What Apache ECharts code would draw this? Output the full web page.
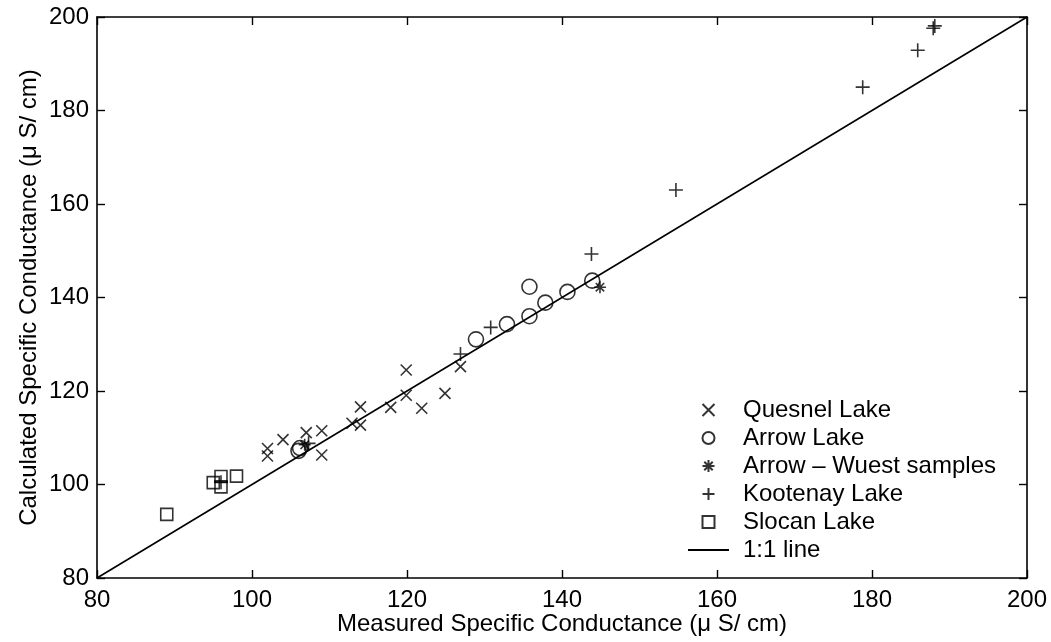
<!DOCTYPE html>
<html>
<head>
<meta charset="utf-8">
<script src="https://cdn.jsdelivr.net/npm/echarts@6/dist/echarts.min.js"></script>
<style>
html,body{margin:0;padding:0;background:#fff;}
#chart{width:1051px;height:642px;}
</style>
</head>
<body>
<div id="chart"></div>
<script>
// ---- data ----
const xTicks = [80, 100, 120, 140, 160, 180, 200];
const yTicks = [80, 100, 120, 140, 160, 180, 200];
const quesnel = [[102,107.7],[102,106.1],[104,109.6],[107,111.1],[109,111.5],[109,106.3],[112.9,113.1],[114,112.7],[114,116.6],[117.9,116.5],[119.9,119.1],[119.9,124.5],[121.9,116.3],[124.9,119.5],[126.9,125.2]];
const arrow = [[106,107.2],[106.2,107.8],[128.9,131.05],[132.9,134.3],[135.8,136.0],[135.8,142.3],[137.85,138.9],[140.7,141.2],[143.9,143.6]];
const wuest = [[106.8,108.5],[144.9,142.2]];
const kootenay = [[96,100.5],[107.3,108.8],[126.9,127.9],[130.8,133.6],[143.8,149.3],[154.7,163.0],[178.8,185.0],[185.9,192.9],[187.9,197.6],[188.1,198.1]];
const slocan = [[89,93.6],[95,100.4],[96,101.7],[96,99.5],[98,101.8]];
const oneToOne = [[80,80],[200,200]];
const names = ['Quesnel Lake','Arrow Lake','Arrow \u2013 Wuest samples','Kootenay Lake','Slocan Lake','1:1 line'];

const FONT = '"Liberation Sans", Arial, Helvetica, sans-serif';
const FS = 24;
const black = '#000';

const sym = {
  cross: 'path://M0,0L10,10M10,0L0,10',
  plus: 'path://M5,0L5,10M0,5L10,5',
  star: 'path://M5,0L5,10M0,5L10,5M1.5,1.5L8.5,8.5M8.5,1.5L1.5,8.5',
  square: 'path://M0,0L10,0L10,10L0,10Z'
};
const hollow = {color: 'rgba(0,0,0,0)', borderColor: black, borderWidth: 1.6};

const chart = echarts.init(document.getElementById('chart'), null, {renderer: 'canvas'});
const axisCommon = {
  type: 'value', min: 80, max: 200, interval: 20,
  axisLine: {show: true, lineStyle: {color: black, width: 1.6}},
  axisTick: {show: true, inside: true, length: 8, lineStyle: {color: black, width: 1.4}},
  splitLine: {show: false}
};
chart.setOption({
  animation: false,
  backgroundColor: '#fff',
  textStyle: {fontFamily: FONT},
  grid: {left: 97, right: 24, top: 17, bottom: 64, containLabel: false, outerBoundsMode: 'none'},
  xAxis: [
    Object.assign({}, axisCommon, {
      position: 'bottom',
      name: 'Measured Specific Conductance (\u03bc S/ cm)',
      nameLocation: 'middle', nameGap: 34, nameMoveOverlap: false,
      nameTextStyle: {fontSize: FS, color: black, fontFamily: FONT},
      axisLabel: {show: true, fontSize: FS, color: black, fontFamily: FONT, margin: 10,
        formatter: v => xTicks.includes(v) ? String(v) : ''}
    }),
    Object.assign({}, axisCommon, {position: 'top', axisLabel: {show: false}})
  ],
  yAxis: [
    Object.assign({}, axisCommon, {
      position: 'left',
      name: 'Calculated Specific Conductance (\u03bc S/ cm)',
      nameLocation: 'middle', nameGap: 56, nameMoveOverlap: false,
      nameTextStyle: {fontSize: FS, color: black, fontFamily: FONT},
      axisLabel: {show: true, fontSize: FS, color: black, fontFamily: FONT, margin: 8,
        formatter: v => yTicks.includes(v) ? String(v) : ''}
    }),
    Object.assign({}, axisCommon, {position: 'right', axisLabel: {show: false}})
  ],
  legend: {
    show: true, orient: 'vertical', left: 687, top: 398, padding: 0,
    itemWidth: 41, itemHeight: 12, itemGap: 4,
    textStyle: {fontSize: FS, color: black, fontFamily: FONT, padding: [0,0,0,9]},
    data: names.slice(0, 5).concat([{name: names[5], itemStyle: {color: 'rgba(0,0,0,0)', borderColor: 'rgba(0,0,0,0)', opacity: 0}}])
  },
  series: [
    {name: names[0], type: 'scatter', data: quesnel, symbol: sym.cross, symbolSize: 11, itemStyle: hollow},
    {name: names[1], type: 'scatter', data: arrow, symbol: 'circle', symbolSize: 15, itemStyle: hollow},
    {name: names[2], type: 'scatter', data: wuest, symbol: sym.star, symbolSize: 12, itemStyle: hollow},
    {name: names[3], type: 'scatter', data: kootenay, symbol: sym.plus, symbolSize: 14, itemStyle: hollow},
    {name: names[4], type: 'scatter', data: slocan, symbol: sym.square, symbolSize: 12, itemStyle: hollow},
    {name: names[5], type: 'line', data: oneToOne, symbol: 'none', showSymbol: false,
      lineStyle: {color: black, width: 1.6}, itemStyle: {color: black}, z: 1}
  ]
});
</script>
</body>
</html>
